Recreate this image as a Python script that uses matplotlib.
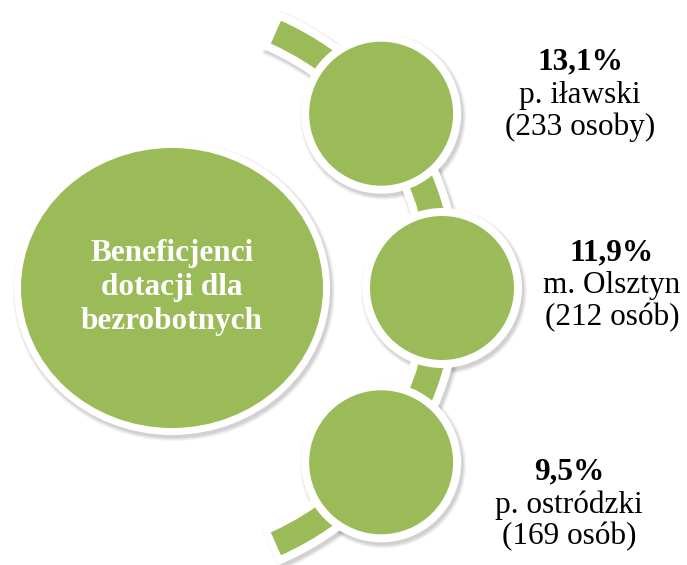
import numpy as np
import matplotlib
matplotlib.use('Agg')
import matplotlib.pyplot as plt
from matplotlib.patches import Ellipse, Wedge

plt.rcParams['font.family'] = ['Liberation Serif', 'DejaVu Serif']

# labels of the three sub-regions
shares = ['13,1%', '11,9%', '9,5%']
regions = ['p. iławski', 'm. Olsztyn', 'p. ostródzki']
people = ['(233 osoby)', '(212 osób)', '(169 osób)']
title_lines = ['Beneficjenci', 'dotacji dla', 'bezrobotnych']

green = '#9BBB59'
W, H = 687, 565

fig = plt.figure(figsize=(W / 100, H / 100), dpi=100)
ax = fig.add_axes([0, 0, 1, 1])
ax.set_xlim(0, W)
ax.set_ylim(H, 0)
ax.axis('off')

# arc geometry (pixels, y down)
acx, acy, ar = 162, 288, 280
band = 25
border = 8
sr = 72          # small circle radius
angles = [-38.5, 0, 38.5]
text_pos = [(580, 62), (612, 253), (569, 472)]


def shadow_ellipse(x, y, w, h, dx=2, dy=3):
    for k, a in zip([6, 4, 2, 0], [0.05, 0.06, 0.07, 0.08]):
        ax.add_patch(Ellipse((x + dx, y + dy), w + k, h + k, color='#404040',
                             alpha=a, lw=0, zorder=1))


def shadow_wedge(dx=2, dy=3):
    for k, a in zip([6, 4, 2, 0], [0.05, 0.06, 0.07, 0.08]):
        ax.add_patch(Wedge((acx + dx, acy + dy), ar + band / 2 + border + k / 2,
                           -67 - k / 10, 67 + k / 10, width=band + 2 * border + k,
                           color='#404040', alpha=a, lw=0, zorder=1))


# arc band
shadow_wedge()
ax.add_patch(Wedge((acx, acy), ar + band / 2 + border, -67.3, 67.3,
                   width=band + 2 * border, color='white', lw=0, zorder=2))
ax.add_patch(Wedge((acx, acy), ar + band / 2, -66, 66, width=band,
                   color=green, lw=0, zorder=3))

# big circle
bx, by, bw, bh = 172, 288, 302, 280
shadow_ellipse(bx, by, bw + 2 * border - 2, bh + 2 * border - 2)
ax.add_patch(Ellipse((bx, by), bw + 14, bh + 14, color='white', lw=0, zorder=4))
ax.add_patch(Ellipse((bx, by), bw, bh, color=green, lw=0, zorder=5))
for i, line in enumerate(title_lines):
    ax.text(bx, by - 34 + 34 * i, line, color='white', fontsize=22.5,
            fontweight='bold', ha='center', va='center', zorder=6)

# small circles on the arc
for ang, s, reg, ppl, (tx, ty) in zip(angles, shares, regions, people, text_pos):
    cx = acx + ar * np.cos(np.radians(ang))
    cy = acy + ar * np.sin(np.radians(ang))
    shadow_ellipse(cx, cy, 2 * (sr + border), 2 * (sr + border))
    ax.add_patch(Ellipse((cx, cy), 2 * (sr + border), 2 * (sr + border),
                         color='white', lw=0, zorder=7))
    ax.add_patch(Ellipse((cx, cy), 2 * sr, 2 * sr, color=green, lw=0, zorder=8))
    ax.text(tx, ty, s, fontsize=22.5, fontweight='bold', ha='center',
            va='center', zorder=9)
    ax.text(tx, ty + 33, reg, fontsize=22.5, ha='center', va='center', zorder=9)
    ax.text(tx, ty + 65, ppl, fontsize=22.5, ha='center', va='center', zorder=9)

fig.savefig('out.png', dpi=100)
